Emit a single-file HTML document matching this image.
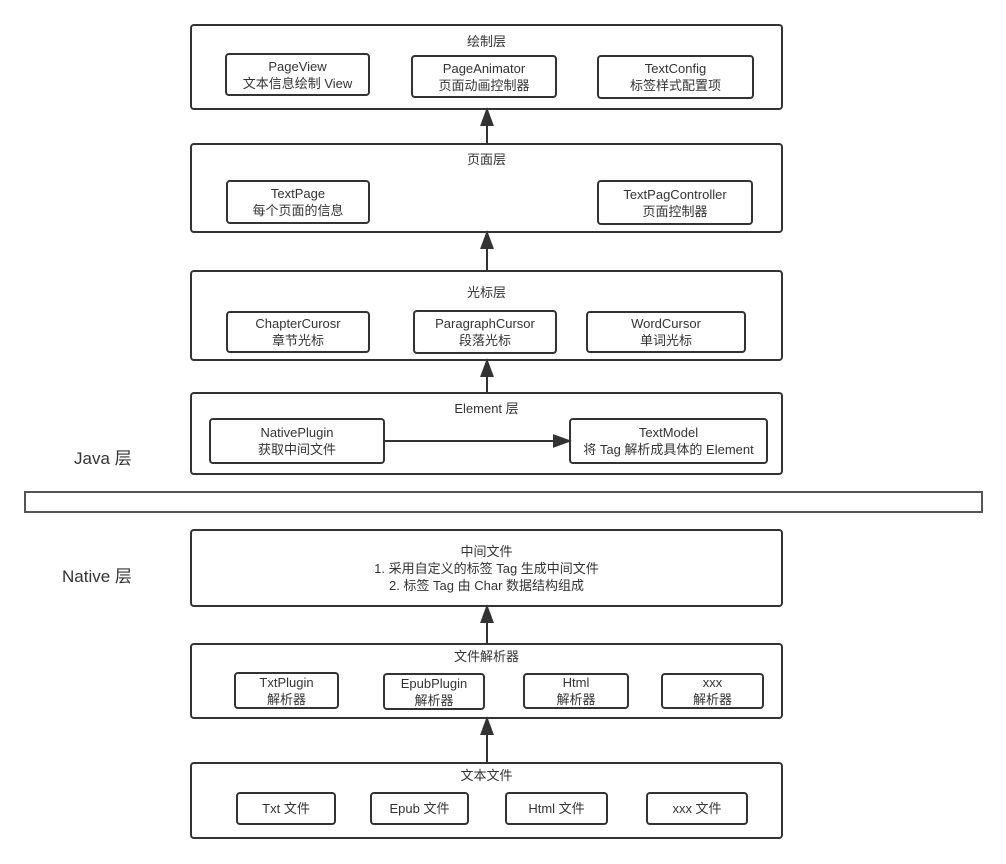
<!DOCTYPE html>
<html><head><meta charset="utf-8">
<style>
html,body{margin:0;padding:0;background:#fff;}
body{width:1006px;height:864px;position:relative;overflow:hidden;font-family:"Liberation Sans","Noto Sans CJK SC",sans-serif;color:#333;}
.L{position:absolute;border:2px solid #333;border-radius:4px;box-sizing:border-box;background:#fff;}
.b{position:absolute;border:2px solid #333;border-radius:4px;box-sizing:border-box;display:flex;align-items:center;justify-content:center;text-align:center;font-size:13px;line-height:17px;background:#fff;white-space:nowrap;}
.t{position:absolute;left:190px;width:593px;text-align:center;font-size:13px;line-height:17px;}
.big{position:absolute;font-size:17px;line-height:20px;}
svg{position:absolute;left:0;top:0;}
</style></head><body>
<div class="L" style="left:190px;top:24px;width:593px;height:86px"></div>
<div class="t" style="top:33px">绘制层</div>
<div class="b" style="left:225px;top:53px;width:145px;height:43px">PageView<br>文本信息绘制 View</div>
<div class="b" style="left:411px;top:55px;width:146px;height:43px">PageAnimator<br>页面动画控制器</div>
<div class="b" style="left:597px;top:55px;width:157px;height:44px">TextConfig<br>标签样式配置项</div>

<div class="L" style="left:190px;top:143px;width:593px;height:90px"></div>
<div class="t" style="top:151px">页面层</div>
<div class="b" style="left:226px;top:180px;width:144px;height:44px">TextPage<br>每个页面的信息</div>
<div class="b" style="left:597px;top:180px;width:156px;height:45px">TextPagController<br>页面控制器</div>

<div class="L" style="left:190px;top:270px;width:593px;height:91px"></div>
<div class="t" style="top:284px">光标层</div>
<div class="b" style="left:226px;top:311px;width:144px;height:42px">ChapterCurosr<br>章节光标</div>
<div class="b" style="left:413px;top:310px;width:144px;height:44px">ParagraphCursor<br>段落光标</div>
<div class="b" style="left:586px;top:311px;width:160px;height:42px">WordCursor<br>单词光标</div>

<div class="L" style="left:190px;top:392px;width:593px;height:83px"></div>
<div class="t" style="top:400px">Element 层</div>
<div class="b" style="left:209px;top:418px;width:176px;height:46px">NativePlugin<br>获取中间文件</div>
<div class="b" style="left:569px;top:418px;width:199px;height:46px">TextModel<br>将 Tag 解析成具体的 Element</div>

<div class="big" style="left:74px;top:449px">Java 层</div>
<div style="position:absolute;left:24px;top:491px;width:959px;height:22px;border:2px solid #555;box-sizing:border-box"></div>
<div class="big" style="left:62px;top:567px">Native 层</div>

<div class="L" style="left:190px;top:529px;width:593px;height:78px"></div>
<div class="t" style="top:543px">中间文件<br>1. 采用自定义的标签 Tag 生成中间文件<br>2. 标签 Tag 由 Char 数据结构组成</div>

<div class="L" style="left:190px;top:643px;width:593px;height:76px"></div>
<div class="t" style="top:648px">文件解析器</div>
<div class="b" style="left:234px;top:672px;width:105px;height:37px">TxtPlugin<br>解析器</div>
<div class="b" style="left:383px;top:673px;width:102px;height:37px">EpubPlugin<br>解析器</div>
<div class="b" style="left:523px;top:673px;width:106px;height:36px">Html<br>解析器</div>
<div class="b" style="left:661px;top:673px;width:103px;height:36px">xxx<br>解析器</div>

<div class="L" style="left:190px;top:762px;width:593px;height:77px"></div>
<div class="t" style="top:767px">文本文件</div>
<div class="b" style="left:236px;top:792px;width:100px;height:33px">Txt 文件</div>
<div class="b" style="left:370px;top:792px;width:99px;height:33px">Epub 文件</div>
<div class="b" style="left:505px;top:792px;width:103px;height:33px">Html 文件</div>
<div class="b" style="left:646px;top:792px;width:102px;height:33px">xxx 文件</div>

<svg width="1006" height="864">
<g stroke="#333" stroke-width="2" fill="#333">
<line x1="487" y1="143" x2="487" y2="124"/><polygon points="487,110 481.5,125 492.5,125"/>
<line x1="487" y1="270" x2="487" y2="247"/><polygon points="487,233 481.5,248 492.5,248"/>
<line x1="487" y1="392" x2="487" y2="375"/><polygon points="487,361 481.5,376 492.5,376"/>
<line x1="385" y1="441" x2="555" y2="441"/><polygon points="569,441 554,435.5 554,446.5"/>
<line x1="487" y1="643" x2="487" y2="621"/><polygon points="487,607 481.5,622 492.5,622"/>
<line x1="487" y1="762" x2="487" y2="733"/><polygon points="487,719 481.5,734 492.5,734"/>
</g>
</svg>
</body></html>
